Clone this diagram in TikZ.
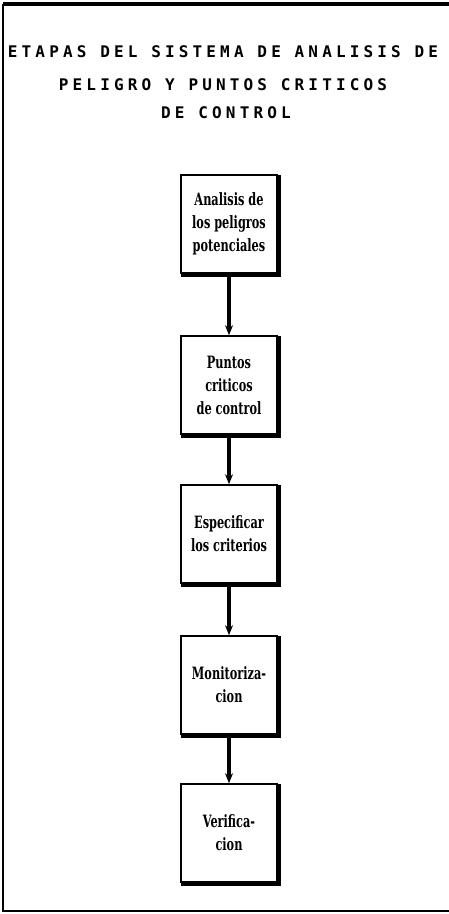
\documentclass[tikz,border=0pt]{standalone}
\usepackage{fontspec}
\usetikzlibrary{arrows.meta}
\newfontfamily\titlefont[LetterSpace=26]{DejaVu Sans Mono}
\newfontfamily\boxfont[FakeStretch=0.74]{DejaVu Serif Condensed}
\tikzset{
  stage/.style={draw, line width=1.6pt, minimum width=96pt, minimum height=98pt,
    align=center, font=\boxfont\bfseries\fontsize{17}{23}\selectfont, inner sep=2pt},
  shade edge/.style={line width=3.5pt, line cap=rect},
  flow/.style={line width=3.6pt, -{Stealth[length=10pt,width=8pt]}},
  heading/.style={font=\titlefont\bfseries\fontsize{16}{18}\selectfont, inner sep=0pt},
}
\begin{document}
\begin{tikzpicture}[x=1pt,y=-1pt]
\useasboundingbox (0,0) rectangle (449,914);
% outer frame, open on the right
\draw[line width=3.2pt] (449,4) -- (3,4);
\draw[line width=2.4pt] (3,4) -- (3,911) -- (449,911);
% heading
\node[heading] (t1) at (223,52) {ETAPAS DEL SISTEMA DE ANALISIS DE};
\node[heading] (t2) at (223,85) {PELIGRO Y PUNTOS CRITICOS};
\node[heading] (t3) at (226,113) {DE CONTROL};
% stages
\node[stage] (s1) at (229,224) {Analisis de\\los peligros\\potenciales};
\node[stage] (s2) at (229,385) {Puntos\\criticos\\de control};
\node[stage] (s3) at (229,534) {Especificar\\los criterios};
\node[stage] (s4) at (229,685) {Monitoriza-\\cion};
\node[stage] (s5) at (229,833) {Verifica-\\cion};
% drop shadows along right and bottom edges
\foreach \n in {s1,s2,s3,s4,s5}{
  \draw[shade edge] ([xshift=1.8pt,yshift=-3pt]\n.north east) -- ([xshift=1.8pt,yshift=-1.8pt]\n.south east) -- ([xshift=3pt,yshift=-1.8pt]\n.south west);
}
% connectors
\draw[flow] (s1.south) -- (s2.north);
\draw[flow] (s2.south) -- (s3.north);
\draw[flow] (s3.south) -- (s4.north);
\draw[flow] (s4.south) -- (s5.north);
\end{tikzpicture}
\end{document}
